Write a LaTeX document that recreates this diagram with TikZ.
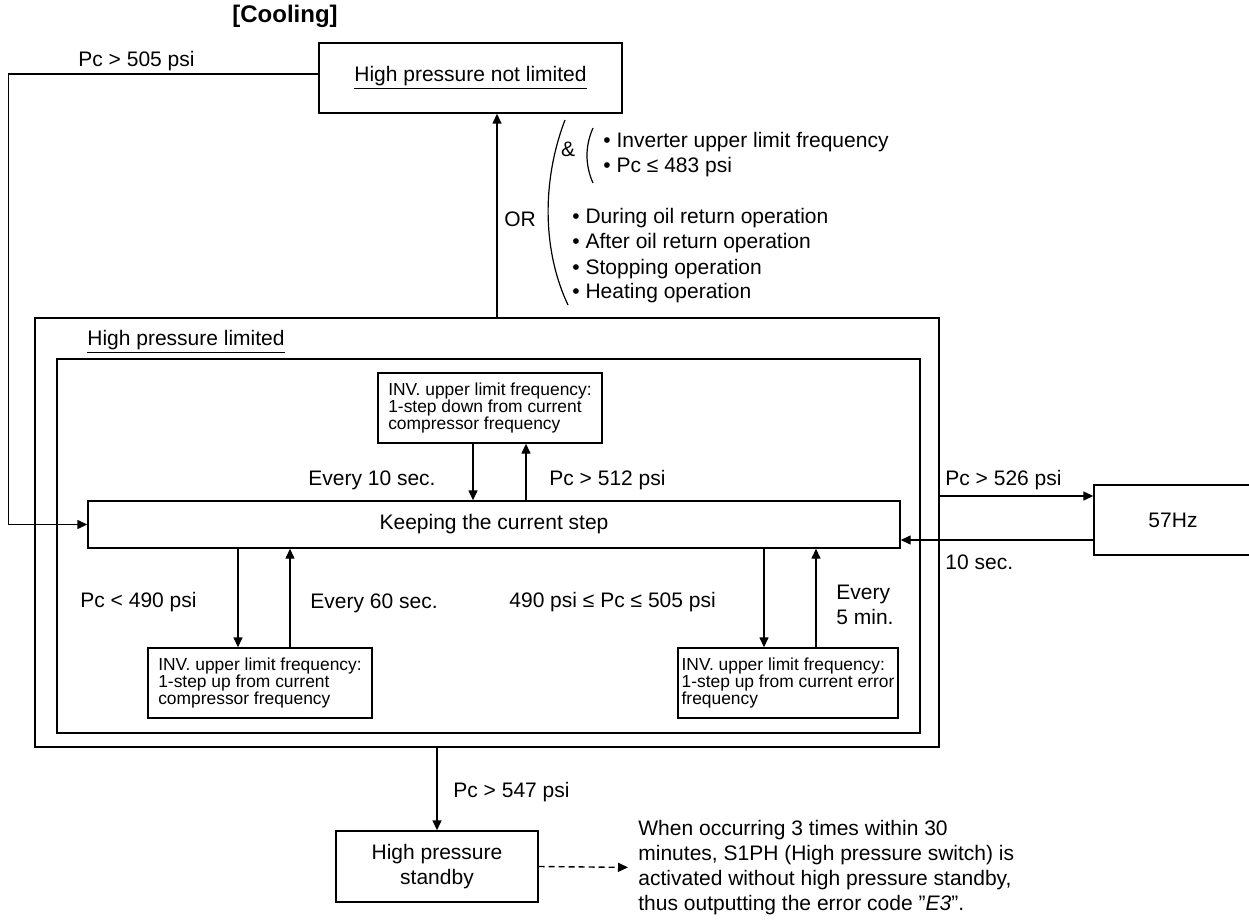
\documentclass[tikz,border=0pt]{standalone}
\usepackage{fontspec}
\setmainfont{Liberation Sans}
\usetikzlibrary{arrows.meta}

\newcommand\dq{\char34\relax}

\tikzset{
  box/.style={draw, line width=0.7pt, inner sep=0pt},
  invbox/.style={box, minimum width=112pt, minimum height=35pt, align=left, font=\fontsize{8.7}{8.5}\selectfont},
  lbl/.style={inner sep=0pt, font=\fontsize{10.5}{12.5}\selectfont},
  arr/.style={line width=0.7pt, -{Triangle[length=5pt,width=4.5pt]}},
}

\begin{document}
\begin{tikzpicture}[x=0.5pt,y=-0.5pt]
\path[use as bounding box] (0,0) rectangle (1249,920);
\clip (0,0) rectangle (1249,920);

\node[lbl, font=\fontsize{12}{14}\selectfont\bfseries] (title) at (285,16) {[Cooling]};
\node[box, lbl, minimum width=151.5pt, minimum height=35pt] (nl) at (470.5,78) {\underline{High pressure not limited}};
\node[box, minimum width=452pt, minimum height=214.5pt] (outer) at (487,532.5) {};
\node[box, minimum width=431.5pt, minimum height=187pt] (inner) at (488.5,546) {};
\node[lbl, anchor=base west] (hpl) at (87,345) {\underline{High pressure limited}};
\node[invbox] (invtop) at (490,408) {INV. upper limit frequency:\\1-step down from current\\compressor frequency};
\node[box, lbl, minimum width=406pt, minimum height=23.5pt] (keep) at (494,524.5) {Keeping the current step};
\node[invbox] (invup) at (260,683) {INV. upper limit frequency:\\1-step up from current\\compressor frequency};
\node[invbox, minimum width=110pt] (inverr) at (788,683) {INV. upper limit frequency:\\1-step up from current error\\frequency};
\node[box, lbl, minimum width=79pt, minimum height=35pt] (hz) at (1173,520) {57Hz};
\node[box, lbl, minimum width=101pt, minimum height=35.5pt, align=center] (standby) at (437,866.5) {High pressure\\standby};
\node[lbl, anchor=west, align=left] (note) at (638,867.5) {When occurring 3 times within 30\\minutes, S1PH (High pressure switch) is\\activated without high pressure standby,\\thus outputting the error code \dq\textit{E3}\dq.};

\draw[arr] ([xshift=5pt]outer.north) -- ([xshift=5pt]outer.north |- nl.south);
\draw[arr] ([yshift=2pt]nl.west) -- ++(-310,0) |- (keep.west);
\draw[arr] ([xshift=-8.5pt]invtop.south) -- ([xshift=-8.5pt]invtop.south |- keep.north);
\draw[arr] ([xshift=18pt]invtop.south |- keep.north) -- ([xshift=18pt]invtop.south);
\draw[arr] ([xshift=-11pt]invup.north |- keep.south) -- ([xshift=-11pt]invup.north);
\draw[arr] ([xshift=15pt]invup.north) -- ([xshift=15pt]invup.north |- keep.south);
\draw[arr] ([xshift=-12pt]inverr.north |- keep.south) -- ([xshift=-12pt]inverr.north);
\draw[arr] ([xshift=14pt]inverr.north) -- ([xshift=14pt]inverr.north |- keep.south);
\draw[arr] ([yshift=18.25pt]outer.east) -- ([yshift=18.25pt]outer.east -| hz.west);
\draw[arr] ([yshift=-10pt]hz.west) -- ([yshift=-10pt]hz.west -| keep.east);
\draw[arr] (standby.north |- outer.south) -- (standby.north);
\draw[arr, dash pattern=on 3pt off 2pt, shorten >=5pt] (standby.east) -- (note.west);

\draw[line width=0.6pt] (565,120) .. controls (542,180) and (542,250) .. (568,305);
\draw[line width=0.6pt] (593,128) .. controls (585,146) and (585,165) .. (593,183);
\node[lbl, anchor=base] (amp) at (568,157) {\&};
\node[lbl, anchor=west, align=left] (cond) at (603,154.5) {\textbullet\ Inverter upper limit frequency\\\textbullet\ Pc ≤ 483 psi};
\foreach \t [count=\i] in {During oil return operation, After oil return operation, Stopping operation, Heating operation}
  \node[lbl, anchor=base west] (op\i) at (572,199+25*\i) {\textbullet\ \t};
\node[lbl, anchor=base] (or) at (520,227) {OR};

\node[lbl, anchor=base west] (pc505) at (78,67) {Pc > 505 psi};
\node[lbl, anchor=base east] (ev10) at (436,485) {Every 10 sec.};
\node[lbl, anchor=base west] (pc512) at (549,485) {Pc > 512 psi};
\node[lbl, anchor=base west] (pc490) at (80,607) {Pc < 490 psi};
\node[lbl, anchor=base west] (ev60) at (310,608) {Every 60 sec.};
\node[lbl, anchor=base west] (range) at (509,607) {490 psi ≤ Pc ≤ 505 psi};
\node[lbl, anchor=west, align=left] (ev5) at (836,605) {Every\\5 min.};
\node[lbl, anchor=base west] (pc526) at (945,485) {Pc > 526 psi};
\node[lbl, anchor=base west] (ten) at (945,569) {10 sec.};
\node[lbl, anchor=base west] (pc547) at (453,797) {Pc > 547 psi};
\end{tikzpicture}
\end{document}
